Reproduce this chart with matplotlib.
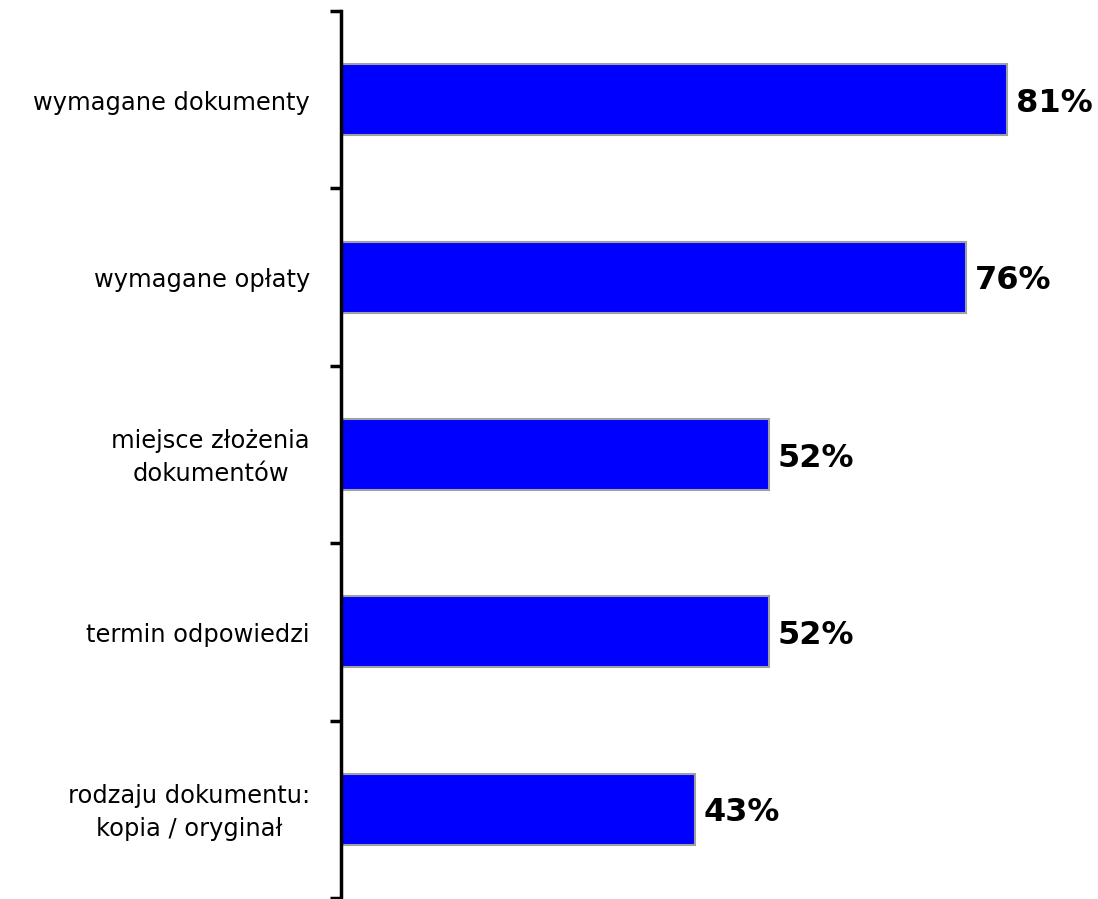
import matplotlib.pyplot as plt
import matplotlib.transforms as mtransforms
import numpy as np

categories = ["wymagane dokumenty", "wymagane opłaty", "miejsce złożenia\ndokumentów",
              "termin odpowiedzi", "rodzaju dokumentu:\nkopia / oryginał"]
values = [81, 76, 52, 52, 43]

W, H = 1098, 899
fig = plt.figure(figsize=(W/100, H/100), dpi=100)
ax_left = 341 / W
ax_bottom = 1 - 898 / H
ax_top = 1 - 11 / H
ax = fig.add_axes([ax_left, ax_bottom, 1 - ax_left, ax_top - ax_bottom])

n = len(categories)
y = np.arange(n)
ax.barh(y, values, height=0.4, color="#0000FF", edgecolor="#A0A0A0", linewidth=1.5, zorder=2)
ax.set_ylim(n - 0.5, -0.5)
px_per_unit = (1007 - 341) / 81
ax.set_xlim(0, (W - 341) / px_per_unit)

ax.set_yticks(np.arange(-0.5, n, 1.0))
ax.set_yticklabels([])
ax.tick_params(axis="y", which="major", length=8, width=2.5, direction="out")

off = mtransforms.ScaledTranslation(-31/100, -3/100, fig.dpi_scale_trans)
for yi, c in zip(y, categories):
    ax.text(0, yi, c, transform=ax.get_yaxis_transform() + off, ha="right", va="center",
            multialignment="center", fontsize=17.4, linespacing=1.45)

ax.set_xticks([])
for s in ["top", "right", "bottom"]:
    ax.spines[s].set_visible(False)
ax.spines["left"].set_linewidth(2.5)

for yi, v in zip(y, values):
    ax.text(v + 1.15, yi + 0.02, f"{v}%", va="center", ha="left", fontsize=23, fontweight="bold")

fig.savefig("out.png", dpi=100)
